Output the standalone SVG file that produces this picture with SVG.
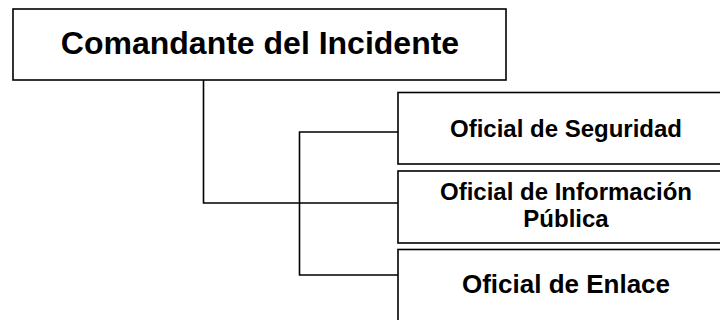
<svg xmlns="http://www.w3.org/2000/svg" width="720" height="320" viewBox="0 0 720 320">
  <style>
    .box { fill: #ffffff; stroke: #000000; stroke-width: 1.6; }
    .conn { fill: none; stroke: #000000; stroke-width: 1.6; }
    .t { font-family: "Liberation Sans", Arial, sans-serif; font-weight: bold; fill: #000000; text-anchor: middle; }
  </style>
  <rect width="720" height="320" fill="#ffffff"/>
  <g id="connectors">
    <polyline class="conn" points="203.5,80 203.5,203 398,203"/>
    <polyline class="conn" points="398,132 299.5,132 299.5,275 398,275"/>
  </g>
  <g id="comandante">
    <rect class="box" x="13" y="9" width="493" height="71"/>
    <text class="t" x="260" y="54" font-size="32">Comandante del Incidente</text>
  </g>
  <g id="seguridad">
    <rect class="box" x="398" y="92.5" width="330" height="71.5"/>
    <text class="t" x="566" y="137" font-size="24">Oficial de Seguridad</text>
  </g>
  <g id="informacion">
    <rect class="box" x="398" y="171" width="330" height="72"/>
    <text class="t" x="566" y="200" font-size="24">Oficial de Información</text>
    <text class="t" x="566" y="227" font-size="24">Pública</text>
  </g>
  <g id="enlace">
    <rect class="box" x="398" y="249.5" width="330" height="100"/>
    <text class="t" x="566" y="293" font-size="26">Oficial de Enlace</text>
  </g>
</svg>
